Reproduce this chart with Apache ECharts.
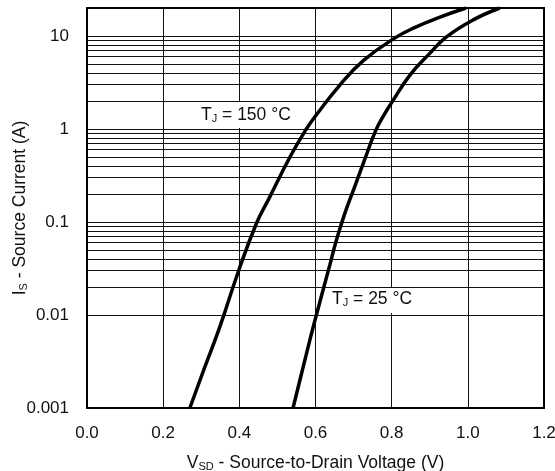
<!DOCTYPE html>
<html>
<head>
<meta charset="utf-8">
<script src="https://cdn.jsdelivr.net/npm/echarts@6/dist/echarts.min.js"></script>
<style>html,body{margin:0;padding:0;background:#fff;}#c{width:555px;height:471px;}</style>
</head>
<body>
<div id="c"></div>
<script>
// Tj = 150 °C curve: [V_SD (V), I_S (A)]
var vsd150 = [0.270, 0.310, 0.349, 0.397, 0.445, 0.476, 0.533, 0.576, 0.600, 0.664, 0.727, 0.810, 0.860, 0.920, 0.995];
var is150  = [0.001, 0.0028, 0.0075, 0.029, 0.097, 0.173, 0.50, 1.0, 1.38, 2.97, 5.5, 9.6, 12.3, 15.6, 20];
// Tj = 25 °C curve
var vsd25 = [0.541, 0.568, 0.596, 0.638, 0.655, 0.677, 0.703, 0.730, 0.758, 0.780, 0.800, 0.848, 0.900, 0.944, 1.014, 1.084];
var is25  = [0.001, 0.0028, 0.008, 0.035, 0.064, 0.124, 0.24, 0.48, 0.96, 1.42, 1.92, 3.8, 6.5, 9.8, 14.9, 20];

var xTicks = [0.0, 0.2, 0.4, 0.6, 0.8, 1.0, 1.2];
var yDecades = [0.001, 0.01, 0.1, 1, 10];
var yMax = 20;

// minor gridlines 2..9 × each decade
var minorLines = [];
yDecades.forEach(function (d) {
  for (var m = 2; m <= 9; m++) {
    var v = d * m;
    if (v < yMax) minorLines.push({ yAxis: Number(v.toPrecision(6)) });
  }
});

function pairs(xs, ys) { return xs.map(function (x, i) { return [x, ys[i]]; }); }

var FONT = 'Liberation Sans, Arial, Helvetica, sans-serif';
var richSub = function (big, small, key) {
  var o = {};
  o.m = { fontFamily: FONT, fontSize: big, verticalAlign: 'bottom', lineHeight: 20 };
  o.s = { fontFamily: FONT, fontSize: small, verticalAlign: 'bottom', lineHeight: 15 };
  o.m[key] = '#111'; o.s[key] = '#111';
  return o;
};
var chart = echarts.init(document.getElementById('c'));
chart.setOption({
  animation: false,
  backgroundColor: '#fff',
  grid: { left: 87, right: 11, top: 8, bottom: 63, show: true, borderColor: '#000', borderWidth: 2,
    backgroundColor: 'transparent', z: 4, outerBoundsMode: 'none', containLabel: false },
  xAxis: {
    type: 'value', min: xTicks[0], max: xTicks[xTicks.length - 1], interval: 0.2,
    axisLine: { show: false }, axisTick: { show: false },
    splitLine: { show: true, lineStyle: { color: '#111', width: 1 } },
    axisLabel: { fontFamily: FONT, fontSize: 17, color: '#111', margin: 17,
      formatter: function (v) { return v.toFixed(1); } },
    name: '{m|V}{s|SD}{m| - Source-to-Drain Voltage (V)}',
    nameLocation: 'middle', nameGap: 44, nameMoveOverlap: false,
    nameTextStyle: { fontFamily: FONT, color: '#111', rich: richSub(17.5, 11, 'color') }
  },
  yAxis: {
    type: 'log', logBase: 10, min: yDecades[0], max: yMax,
    axisLine: { show: false }, axisTick: { show: false },
    splitLine: { show: true, lineStyle: { color: '#111', width: 1 } },
    axisLabel: { fontFamily: FONT, fontSize: 17, color: '#111', margin: 18,
      formatter: function (v) {
        var l = Math.log10(v), r = Math.round(l);
        if (Math.abs(l - r) > 1e-6) return '';
        return String(Number(Math.pow(10, r).toPrecision(6)));
      } },
    name: '{m|I}{s|S}{m| - Source Current (A)}',
    nameLocation: 'middle', nameGap: 58, nameRotate: 90, nameMoveOverlap: false,
    nameTextStyle: { fontFamily: FONT, color: '#111', rich: richSub(17.5, 11, 'color') }
  },
  series: [
    { type: 'line', data: [], z: 1, silent: true,
      markLine: { silent: true, symbol: 'none', label: { show: false },
        lineStyle: { color: '#111', width: 1, type: 'solid' }, data: minorLines, animation: false } },
    { type: 'line', name: 'TJ150', data: pairs(vsd150, is150), smooth: 0.45, symbol: 'none', z: 10,
      lineStyle: { color: '#000', width: 3.5 } },
    { type: 'line', name: 'TJ25', data: pairs(vsd25, is25), smooth: 0.45, symbol: 'none', z: 10,
      lineStyle: { color: '#000', width: 3.5 } }
  ],
  graphic: [
    { type: 'rect', z: 5, shape: { x: 170, y: 101, width: 131, height: 27 }, style: { fill: '#fff' } },
    { type: 'text', z: 6, left: 201, top: 106, style: { text: '{m|T}{s|J}{m| = 150 °C}', rich: richSub(17.5, 11, 'fill') } },
    { type: 'rect', z: 5, shape: { x: 328, y: 288, width: 84, height: 25 }, style: { fill: '#fff' } },
    { type: 'text', z: 6, left: 332, top: 290, style: { text: '{m|T}{s|J}{m| = 25 °C}', rich: richSub(17.5, 11, 'fill') } }
  ]
});
</script>
</body>
</html>
